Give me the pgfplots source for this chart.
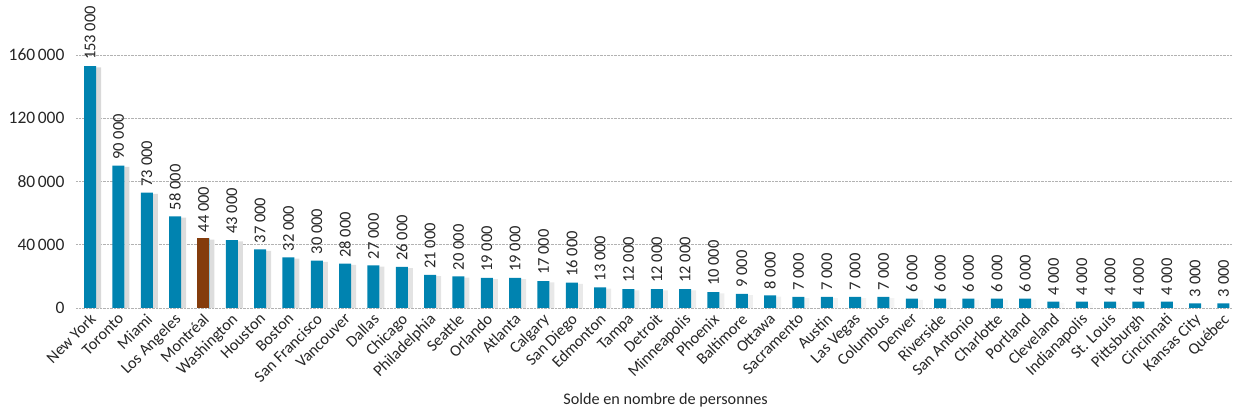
\documentclass[border=0pt]{standalone}
\usepackage{fontspec}
\setmainfont{Carlito}
\usepackage{pgfplots}
\usepackage{pgfplotstable}
\pgfplotsset{compat=1.18}
\definecolor{barblue}{HTML}{0083B0}
\definecolor{barbrown}{HTML}{843C0C}
\pgfplotstableread{
x y
0 153000
1 90000
2 73000
3 58000
4 44000
5 43000
6 37000
7 32000
8 30000
9 28000
10 27000
11 26000
12 21000
13 20000
14 19000
15 19000
16 17000
17 16000
18 13000
19 12000
20 12000
21 12000
22 10000
23 9000
24 8000
25 7000
26 7000
27 7000
28 7000
29 6000
30 6000
31 6000
32 6000
33 6000
34 4000
35 4000
36 4000
37 4000
38 4000
39 3000
40 3000
}\datatable
\pgfplotstableread{
x y
4 44000
}\mtltable
\begin{document}
\begin{tikzpicture}
\path[use as bounding box] (-76pt,-106pt) rectangle (1158pt,308pt);
\begin{axis}[
  at={(0pt,0pt)}, anchor=south west,
  scale only axis, width=1156pt, height=253pt,
  xmin=-0.5, xmax=40.3, ymin=0, ymax=160000,
  clip=false,
  axis line style={draw=none},
  major tick length=0pt,
  ymajorgrids,
  grid style={gray!60, densely dotted, line width=0.8pt},
  ytick={0,40000,80000,120000,160000},
  scaled y ticks=false,
  yticklabel style={/pgf/number format/fixed, /pgf/number format/1000 sep={\hspace{2.5pt}}, /pgf/number format/assume math mode=true},
  y tick label style={font=\fontsize{17.5}{20}\selectfont, text=black!85, xshift=-8pt},
  xtick={0,...,40},
  xticklabels={New York,Toronto,Miami,Los Angeles,Montréal,Washington,Houston,Boston,San Francisco,Vancouver,Dallas,Chicago,Philadelphia,Seattle,Orlando,Atlanta,Calgary,San Diego,Edmonton,Tampa,Detroit,Minneapolis,Phoenix,Baltimore,Ottawa,Sacramento,Austin,Las Vegas,Columbus,Denver,Riverside,San Antonio,Charlotte,Portland,Cleveland,Indianapolis,St. Louis,Pittsburgh,Cincinnati,Kansas City,Québec},
  x tick label style={rotate=45, anchor=north east, font=\fontsize{16.2}{19}\selectfont, text=black!85, inner sep=2pt, xshift=-2pt},
  xlabel={Solde en nombre de personnes},
  xlabel style={at={(axis description cs:0.51,-0.365)}, anchor=center, font=\fontsize{16.2}{19}\selectfont, text=black!85},
]
\addplot[ybar, bar width=5pt, bar shift=8.5pt, draw=none, left color=black!15, right color=white, forget plot] table[x=x,y expr=\thisrow{y}-800] {\datatable};
\addplot[ybar, bar width=12pt, bar shift=0pt, draw=none, fill=barblue,
  nodes near coords,
  every node near coord/.append style={rotate=90, anchor=west, font=\fontsize{16.5}{19}\selectfont, text=black!85, inner sep=6pt, /pgf/number format/fixed, /pgf/number format/1000 sep={\ }, /pgf/number format/assume math mode=true},
  ] table[x=x,y=y] {\datatable};
\addplot[ybar, bar width=12pt, bar shift=0pt, draw=none, fill=barbrown] table[x=x,y=y] {\mtltable};
\end{axis}
\end{tikzpicture}
\end{document}
